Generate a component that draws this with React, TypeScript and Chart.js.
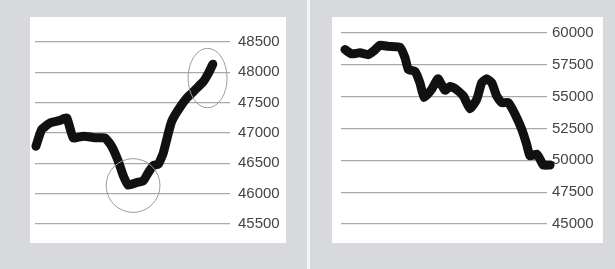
import React, { useEffect, useRef } from "react";
import { Chart, registerables } from "chart.js";

Chart.register(...registerables);

// ---- Left panel data ----
const LEFT_X = [0.5, 3.4, 7.7, 12.8, 16.3, 19.6, 24.8, 31.6, 35.9, 39.3, 42.7, 45.3, 47.8, 52.2, 55.5, 58.1, 60.7, 63.2, 65.8, 68.4, 70.1, 73.5, 77.8, 82.1, 86.3, 88.9, 91.2];
const LEFT_VALUES = [46783, 47056, 47165, 47208, 47247, 46920, 46947, 46920, 46920, 46783, 46538, 46293, 46140, 46184, 46211, 46347, 46467, 46484, 46674, 47001, 47192, 47383, 47574, 47710, 47846, 47982, 48135];
const LEFT_TICKS = [45500, 46000, 46500, 47000, 47500, 48000, 48500];
const LEFT_HIGHLIGHTS = [
  { x: 50.3, y: 46134, rx: 13.8, ry: 443 },
  { x: 88.5, y: 47905, rx: 10, ry: 490 },
];

// ---- Right panel data ----
const RIGHT_X = [1.9, 5.2, 9.2, 13.3, 15.7, 18.9, 23.0, 28.6, 31.1, 32.7, 35.9, 38.3, 40.4, 44.0, 47.1, 50.5, 52.9, 55.3, 59.4, 62.6, 65.9, 68.3, 70.7, 73.2, 75.6, 78.0, 81.2, 84.5, 87.7, 90.1, 91.7, 95.0, 96.6, 98.2, 101.5];
const RIGHT_VALUES = [58700, 58360, 58440, 58300, 58560, 59030, 58950, 58880, 58050, 57130, 57000, 56090, 54920, 55570, 56400, 55500, 55800, 55650, 55050, 54050, 54790, 56090, 56400, 56090, 55050, 54530, 54530, 53620, 52450, 51270, 50360, 50490, 50100, 49630, 49630];
const RIGHT_TICKS = [45000, 47500, 50000, 52500, 55000, 57500, 60000];

type Highlight = { x: number; y: number; rx: number; ry: number };

interface PanelProps {
  xs: number[];
  values: number[];
  ticks: number[];
  highlights: Highlight[];
  width: number;
  height: number;
  left: number;
  top: number;
  padLeft: number;
  padTop: number;
  padBottom: number;
  axisWidth: number;
  labelPad: number;
}

function Panel(p: PanelProps) {
  const ref = useRef<HTMLCanvasElement | null>(null);
  useEffect(() => {
    if (!ref.current) return;
    const ellipsePlugin = {
      id: "ellipses",
      afterDatasetsDraw(chart: any) {
        const ctx = chart.ctx;
        const xs = chart.scales.x;
        const ys = chart.scales.y;
        ctx.save();
        ctx.strokeStyle = "#9a9a9a";
        ctx.lineWidth = 1;
        for (const h of p.highlights) {
          const cx = xs.getPixelForValue(h.x);
          const cy = ys.getPixelForValue(h.y);
          const rx = Math.abs(xs.getPixelForValue(h.x + h.rx) - cx);
          const ry = Math.abs(ys.getPixelForValue(h.y + h.ry) - cy);
          ctx.beginPath();
          ctx.ellipse(cx, cy, rx, ry, 0, 0, Math.PI * 2);
          ctx.stroke();
        }
        ctx.restore();
      },
    };
    const chart = new Chart(ref.current, {
      type: "line",
      data: {
        datasets: [
          {
            data: p.xs.map((x, i) => ({ x, y: p.values[i] })),
            borderColor: "#111111",
            borderWidth: 9,
            borderJoinStyle: "round",
            borderCapStyle: "round",
            pointRadius: 0,
            tension: 0.15,
            clip: false as any,
          },
        ],
      },
      options: {
        responsive: false,
        animation: false,
        events: [],
        layout: { padding: { left: p.padLeft, top: p.padTop, bottom: p.padBottom, right: 0 } },
        plugins: { legend: { display: false }, tooltip: { enabled: false } },
        scales: {
          x: { type: "linear", min: 0, max: 100, display: false },
          y: {
            position: "right",
            min: p.ticks[0],
            max: p.ticks[p.ticks.length - 1],
            afterBuildTicks: (scale: any) => {
              scale.ticks = p.ticks.map((v) => ({ value: v }));
            },
            afterFit: (scale: any) => {
              scale.width = p.axisWidth;
            },
            border: { display: false },
            grid: { color: "#a9a9a9", lineWidth: 1.2, drawTicks: false },
            ticks: {
              padding: p.labelPad,
              color: "#454545",
              font: { family: "'Liberation Sans', Arial, sans-serif", size: 15 },
              callback: (v: any) => String(v),
            },
          },
        },
      },
      plugins: [ellipsePlugin],
    } as any);
    return () => chart.destroy();
  }, []);
  return (
    <div
      style={{
        position: "absolute",
        left: p.left,
        top: p.top,
        width: p.width,
        height: p.height,
        background: "#ffffff",
      }}
    >
      <canvas ref={ref} width={p.width} height={p.height} style={{ display: "block" }} />
    </div>
  );
}

export default function App() {
  return (
    <div
      style={{
        position: "absolute",
        left: 0,
        top: 0,
        width: 615,
        height: 269,
        background: "#d7d9dc",
        overflow: "hidden",
      }}
    >
      <div style={{ position: "absolute", left: 307, top: 0, width: 3, height: 269, background: "#f4f5f6" }} />
      <Panel
        xs={LEFT_X}
        values={LEFT_VALUES}
        ticks={LEFT_TICKS}
        highlights={LEFT_HIGHLIGHTS}
        left={30}
        top={17}
        width={256}
        height={226}
        padLeft={5}
        padTop={25}
        padBottom={19}
        axisWidth={56}
        labelPad={8}
      />
      <Panel
        xs={RIGHT_X}
        values={RIGHT_VALUES}
        ticks={RIGHT_TICKS}
        highlights={[]}
        left={332}
        top={17}
        width={271}
        height={226}
        padLeft={9}
        padTop={16}
        padBottom={19}
        axisWidth={56}
        labelPad={5}
      />
    </div>
  );
}
